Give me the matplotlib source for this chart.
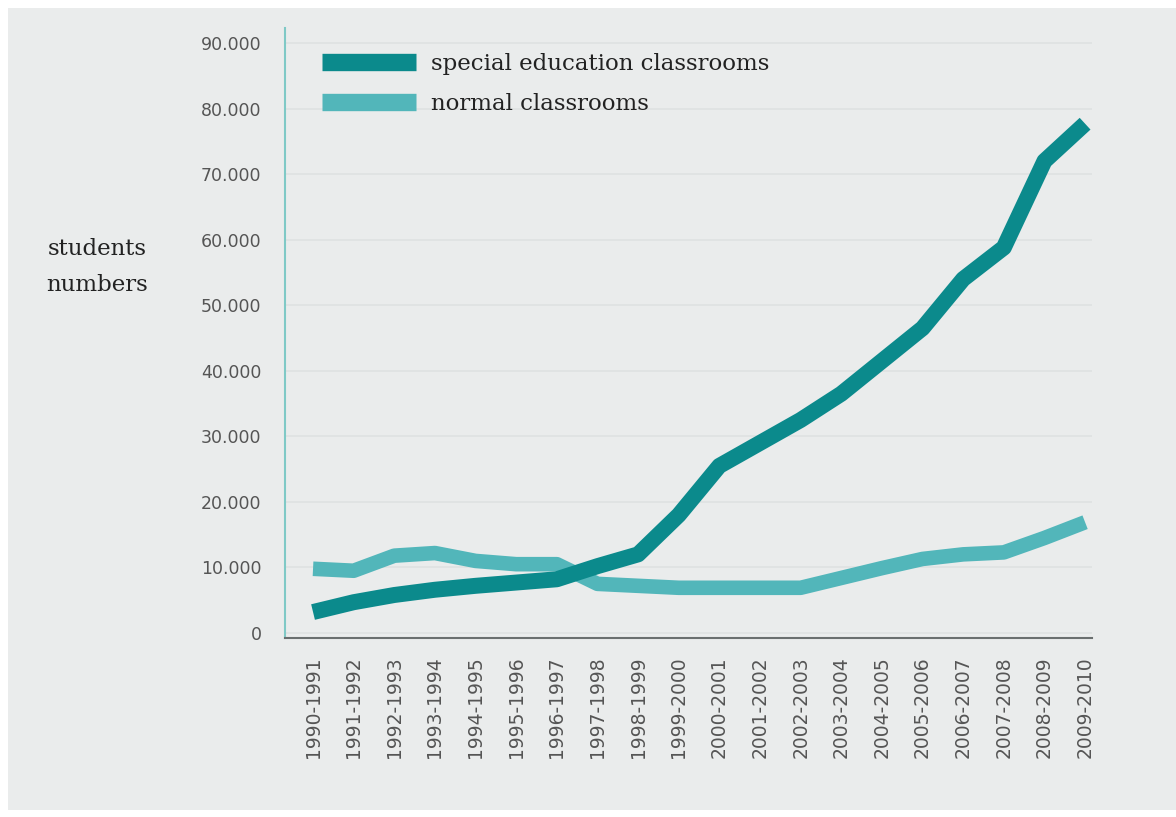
import matplotlib
matplotlib.use("Agg")
import matplotlib.pyplot as plt
from matplotlib.patches import Rectangle
from matplotlib.ticker import FuncFormatter, MultipleLocator

years = ["1990-1991", "1991-1992", "1992-1993", "1993-1994", "1994-1995",
         "1995-1996", "1996-1997", "1997-1998", "1998-1999", "1999-2000",
         "2000-2001", "2001-2002", "2002-2003", "2003-2004", "2004-2005",
         "2005-2006", "2006-2007", "2007-2008", "2008-2009", "2009-2010"]
special = [3200, 4700, 5800, 6600, 7200, 7700, 8200, 10200, 12000, 18000,
           25500, 29000, 32500, 36500, 41500, 46500, 54000, 58800, 72000, 77700]
normal = [9800, 9500, 11800, 12200, 11000, 10500, 10500, 7500, 7200, 6900,
          6900, 6900, 6900, 8400, 9900, 11300, 12000, 12300, 14500, 16900]
series_names = ["special education classrooms", "normal classrooms"]

dark = "#0b8a8c"
light = "#52b6ba"
bg = "#eaecec"

fig = plt.figure(figsize=(11.76, 8.17), dpi=100, facecolor="white")
fig.patches.append(Rectangle((8 / 1176, 7 / 817), 1 - 8 / 1176, 1 - 15 / 817,
                             transform=fig.transFigure, facecolor=bg,
                             edgecolor="none", zorder=-10))

ax = fig.add_axes([285 / 1176, 1 - 638 / 817, (1092 - 285) / 1176, (638 - 28) / 817])
ax.set_facecolor("none")

x = list(range(len(years)))
ax.plot(x, normal, color=light, lw=10.5, solid_capstyle="butt",
        solid_joinstyle="round", label=series_names[1], zorder=3)
ax.plot(x, special, color=dark, lw=11.5, solid_capstyle="butt",
        solid_joinstyle="round", label=series_names[0], zorder=4)

ax.set_xlim(-0.69, 19.17)
ax.set_ylim(-760, 92300)
ax.yaxis.set_major_locator(MultipleLocator(10000))
ax.yaxis.set_major_formatter(FuncFormatter(
    lambda v, p: "0" if v == 0 else f"{int(v):,}".replace(",", ".")))
ax.set_xticks(x)
ax.set_xticklabels(years, rotation=90)
ax.tick_params(axis="both", length=0, labelcolor="#555555")
ax.tick_params(axis="y", pad=17, labelsize=12.5)
ax.tick_params(axis="x", pad=13, labelsize=13.5)
for lab in ax.get_xticklabels() + ax.get_yticklabels():
    lab.set_family("DejaVu Sans")

ax.grid(axis="y", color="#dfe2e2", lw=1.2)
ax.grid(axis="x", visible=False)
ax.set_axisbelow(True)

for s in ["top", "right"]:
    ax.spines[s].set_visible(False)
ax.spines["left"].set_color("#7fc9c6")
ax.spines["left"].set_linewidth(1.5)
ax.spines["bottom"].set_color("#6a6f6f")
ax.spines["bottom"].set_linewidth(1.5)

handles, labels = ax.get_legend_handles_labels()
leg = ax.legend(handles[::-1], labels[::-1], loc="upper left",
                bbox_to_anchor=(37 / 807, 1 - 25 / 610), frameon=False,
                borderaxespad=0, borderpad=0, handlelength=4.1,
                handletextpad=0.65, labelspacing=0.8,
                prop={"family": "DejaVu Serif", "size": 16.5})
for line in leg.get_lines():
    line.set_linewidth(12.5)
for t in leg.get_texts():
    t.set_color("#222222")

fig.text(97 / 1176, 1 - 249 / 817, "students", ha="center", va="center",
         family="DejaVu Serif", size=16.5, color="#222222")
fig.text(97 / 1176, 1 - 285 / 817, "numbers", ha="center", va="center",
         family="DejaVu Serif", size=16.5, color="#222222")

fig.savefig("out.png", dpi=100, facecolor="white")
